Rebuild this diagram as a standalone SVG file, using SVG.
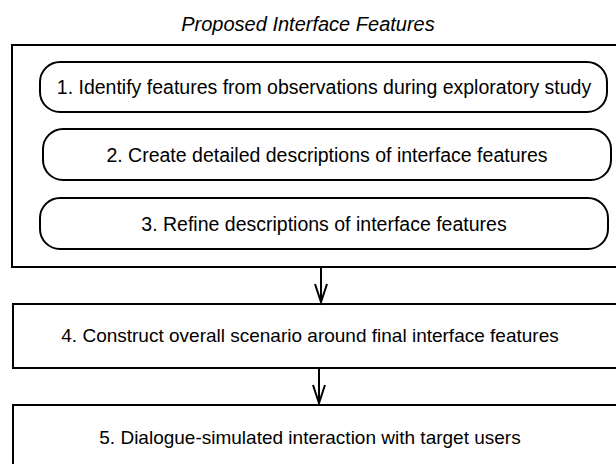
<svg xmlns="http://www.w3.org/2000/svg" width="616" height="464" viewBox="0 0 616 464">
<style>
.box{fill:#fff;stroke:#000;stroke-width:2}
.t{font-family:"Liberation Sans",Arial,sans-serif;font-size:19.5px;fill:#000;text-anchor:middle}
.s{font-size:19px}
.title{font-style:italic;font-size:20px}
.c{stroke:#000;stroke-width:2;fill:none}
</style>
<rect width="616" height="464" fill="#fff"/>
<text class="t title" x="308" y="31">Proposed Interface Features</text>
<g id="group">
<rect class="box" x="12" y="45" width="620" height="222"/>
</g>
<g id="n1">
<rect class="box" x="40" y="62" width="567" height="50" rx="20"/>
<text class="t" x="324" y="94">1. Identify features from observations during exploratory study</text>
</g>
<g id="n2">
<rect class="box" x="43" y="129" width="568" height="51" rx="20"/>
<text class="t" x="327" y="161.5">2. Create detailed descriptions of interface features</text>
</g>
<g id="n3">
<rect class="box" x="40" y="198" width="568" height="51" rx="20"/>
<text class="t" x="324" y="230.5">3. Refine descriptions of interface features</text>
</g>
<g id="n4">
<rect class="box" x="13" y="304" width="620" height="64"/>
<text class="t s" x="310" y="342">4. Construct overall scenario around final interface features</text>
</g>
<g id="n5">
<rect class="box" x="13" y="405" width="620" height="80"/>
<text class="t s" x="310" y="444">5. Dialogue-simulated interaction with target users</text>
</g>
<g id="connectors">
<path class="c" d="M321 267V302M315 284L321 302L327 284"/>
<path class="c" d="M319 368V403M313 385L319 403L325 385"/>
</g>
</svg>
